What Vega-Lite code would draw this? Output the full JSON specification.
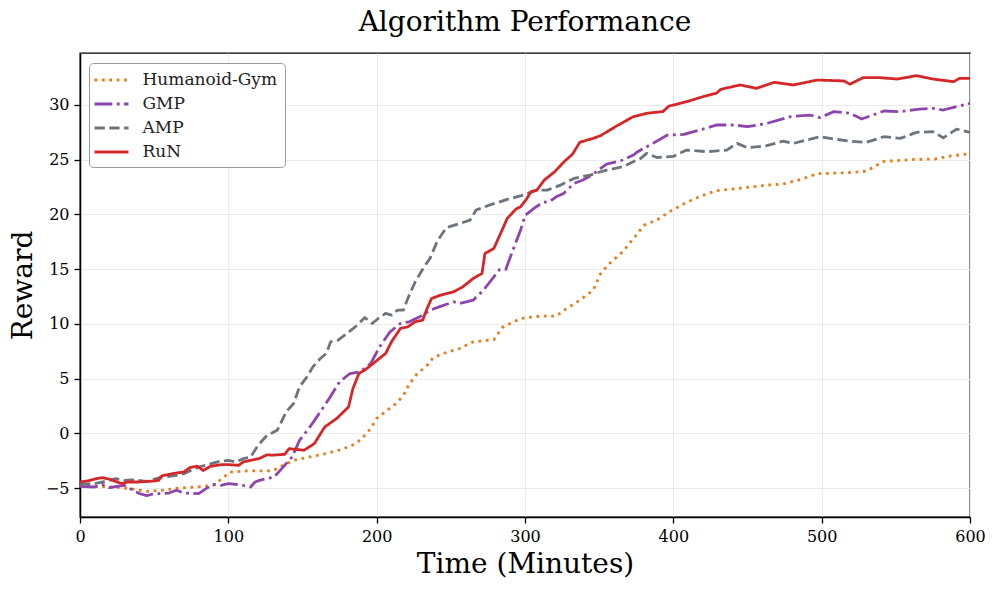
{
  "$schema": "https://vega.github.io/schema/vega-lite/v6.json",
  "width": 890,
  "height": 464,
  "autosize": {"type": "none"},
  "padding": {"left": 80, "top": 53, "right": 27, "bottom": 72},
  "background": "white",
  "title": {"text": "Algorithm Performance", "font": "DejaVu Serif", "fontSize": 28, "fontWeight": "normal", "offset": 16, "color": "#000"},
  "config": {
    "view": {"stroke": "#000", "strokeWidth": 1.3},
    "axis": {
      "labelFont": "DejaVu Serif", "labelFontSize": 16, "labelColor": "#000", "labelFlush": false,
      "titleFont": "DejaVu Serif", "titleFontSize": 28, "titleFontWeight": "normal", "titleColor": "#000",
      "domainColor": "#000", "domainWidth": 1.5, "tickColor": "#000", "tickWidth": 1.3, "tickSize": 6,
      "gridColor": "#ebebeb", "gridWidth": 1, "labelPadding": 5
    }
  },
  "data": {"values": [
    {"s":"Humanoid-Gym","t":0,"v":-4.75},{"s":"Humanoid-Gym","t":11,"v":-4.85},{"s":"Humanoid-Gym","t":22,"v":-4.9},{"s":"Humanoid-Gym","t":34,"v":-5.06},{"s":"Humanoid-Gym","t":45,"v":-5.3},{"s":"Humanoid-Gym","t":56,"v":-5.2},{"s":"Humanoid-Gym","t":67,"v":-5.0},{"s":"Humanoid-Gym","t":79,"v":-4.9},{"s":"Humanoid-Gym","t":90,"v":-4.75},{"s":"Humanoid-Gym","t":97,"v":-4.0},{"s":"Humanoid-Gym","t":101,"v":-3.55},{"s":"Humanoid-Gym","t":112,"v":-3.44},{"s":"Humanoid-Gym","t":124,"v":-3.44},{"s":"Humanoid-Gym","t":130,"v":-3.42},{"s":"Humanoid-Gym","t":135,"v":-3.05},{"s":"Humanoid-Gym","t":144,"v":-2.47},{"s":"Humanoid-Gym","t":155,"v":-2.15},{"s":"Humanoid-Gym","t":166,"v":-1.85},{"s":"Humanoid-Gym","t":177,"v":-1.45},{"s":"Humanoid-Gym","t":186,"v":-0.95},{"s":"Humanoid-Gym","t":191,"v":-0.33},{"s":"Humanoid-Gym","t":196,"v":0.43},{"s":"Humanoid-Gym","t":200,"v":1.35},{"s":"Humanoid-Gym","t":207,"v":2.1},{"s":"Humanoid-Gym","t":213,"v":2.7},{"s":"Humanoid-Gym","t":218,"v":3.45},{"s":"Humanoid-Gym","t":222,"v":4.5},{"s":"Humanoid-Gym","t":227,"v":5.4},{"s":"Humanoid-Gym","t":234,"v":6.2},{"s":"Humanoid-Gym","t":238,"v":6.9},{"s":"Humanoid-Gym","t":245,"v":7.3},{"s":"Humanoid-Gym","t":256,"v":7.75},{"s":"Humanoid-Gym","t":265,"v":8.35},{"s":"Humanoid-Gym","t":279,"v":8.56},{"s":"Humanoid-Gym","t":285,"v":9.7},{"s":"Humanoid-Gym","t":297,"v":10.49},{"s":"Humanoid-Gym","t":310,"v":10.7},{"s":"Humanoid-Gym","t":321,"v":10.7},{"s":"Humanoid-Gym","t":328,"v":11.4},{"s":"Humanoid-Gym","t":337,"v":12.16},{"s":"Humanoid-Gym","t":346,"v":13.08},{"s":"Humanoid-Gym","t":351,"v":14.6},{"s":"Humanoid-Gym","t":357,"v":15.52},{"s":"Humanoid-Gym","t":366,"v":16.6},{"s":"Humanoid-Gym","t":375,"v":18.1},{"s":"Humanoid-Gym","t":380,"v":19.0},{"s":"Humanoid-Gym","t":389,"v":19.5},{"s":"Humanoid-Gym","t":398,"v":20.3},{"s":"Humanoid-Gym","t":409,"v":21.1},{"s":"Humanoid-Gym","t":418,"v":21.65},{"s":"Humanoid-Gym","t":429,"v":22.17},{"s":"Humanoid-Gym","t":452,"v":22.5},{"s":"Humanoid-Gym","t":463,"v":22.68},{"s":"Humanoid-Gym","t":474,"v":22.78},{"s":"Humanoid-Gym","t":486,"v":23.2},{"s":"Humanoid-Gym","t":497,"v":23.72},{"s":"Humanoid-Gym","t":519,"v":23.82},{"s":"Humanoid-Gym","t":530,"v":23.95},{"s":"Humanoid-Gym","t":542,"v":24.85},{"s":"Humanoid-Gym","t":564,"v":25.03},{"s":"Humanoid-Gym","t":576,"v":25.06},{"s":"Humanoid-Gym","t":587,"v":25.34},{"s":"Humanoid-Gym","t":600,"v":25.55},
    {"s":"GMP","t":0,"v":-4.85},{"s":"GMP","t":10,"v":-4.91},{"s":"GMP","t":15,"v":-4.67},{"s":"GMP","t":20,"v":-4.97},{"s":"GMP","t":25,"v":-4.85},{"s":"GMP","t":30,"v":-4.76},{"s":"GMP","t":35,"v":-5.15},{"s":"GMP","t":40,"v":-5.5},{"s":"GMP","t":45,"v":-5.7},{"s":"GMP","t":50,"v":-5.52},{"s":"GMP","t":55,"v":-5.52},{"s":"GMP","t":60,"v":-5.46},{"s":"GMP","t":65,"v":-5.21},{"s":"GMP","t":70,"v":-5.46},{"s":"GMP","t":80,"v":-5.52},{"s":"GMP","t":85,"v":-5.06},{"s":"GMP","t":90,"v":-4.67},{"s":"GMP","t":95,"v":-4.76},{"s":"GMP","t":100,"v":-4.6},{"s":"GMP","t":105,"v":-4.67},{"s":"GMP","t":110,"v":-4.76},{"s":"GMP","t":115,"v":-4.91},{"s":"GMP","t":118,"v":-4.45},{"s":"GMP","t":121,"v":-4.3},{"s":"GMP","t":131,"v":-3.99},{"s":"GMP","t":136,"v":-3.23},{"s":"GMP","t":143,"v":-2.16},{"s":"GMP","t":148,"v":-0.64},{"s":"GMP","t":155,"v":0.58},{"s":"GMP","t":162,"v":1.95},{"s":"GMP","t":168,"v":3.17},{"s":"GMP","t":175,"v":4.7},{"s":"GMP","t":182,"v":5.46},{"s":"GMP","t":189,"v":5.61},{"s":"GMP","t":196,"v":6.38},{"s":"GMP","t":202,"v":7.9},{"s":"GMP","t":209,"v":9.27},{"s":"GMP","t":216,"v":10.03},{"s":"GMP","t":222,"v":10.19},{"s":"GMP","t":229,"v":10.64},{"s":"GMP","t":236,"v":11.25},{"s":"GMP","t":243,"v":11.6},{"s":"GMP","t":252,"v":12.01},{"s":"GMP","t":256,"v":11.86},{"s":"GMP","t":265,"v":12.16},{"s":"GMP","t":272,"v":13.08},{"s":"GMP","t":279,"v":14.3},{"s":"GMP","t":283,"v":14.97},{"s":"GMP","t":287,"v":14.97},{"s":"GMP","t":291,"v":16.43},{"s":"GMP","t":297,"v":18.56},{"s":"GMP","t":300,"v":19.9},{"s":"GMP","t":306,"v":20.55},{"s":"GMP","t":312,"v":21.1},{"s":"GMP","t":317,"v":21.2},{"s":"GMP","t":321,"v":21.61},{"s":"GMP","t":326,"v":21.92},{"s":"GMP","t":333,"v":22.83},{"s":"GMP","t":339,"v":23.14},{"s":"GMP","t":344,"v":23.5},{"s":"GMP","t":351,"v":24.2},{"s":"GMP","t":355,"v":24.6},{"s":"GMP","t":362,"v":24.81},{"s":"GMP","t":366,"v":24.97},{"s":"GMP","t":373,"v":25.42},{"s":"GMP","t":376,"v":25.73},{"s":"GMP","t":385,"v":26.4},{"s":"GMP","t":396,"v":27.25},{"s":"GMP","t":407,"v":27.31},{"s":"GMP","t":418,"v":27.71},{"s":"GMP","t":429,"v":28.17},{"s":"GMP","t":441,"v":28.17},{"s":"GMP","t":450,"v":28.02},{"s":"GMP","t":463,"v":28.32},{"s":"GMP","t":479,"v":28.93},{"s":"GMP","t":492,"v":29.08},{"s":"GMP","t":499,"v":28.84},{"s":"GMP","t":508,"v":29.39},{"s":"GMP","t":519,"v":29.24},{"s":"GMP","t":527,"v":28.72},{"s":"GMP","t":542,"v":29.45},{"s":"GMP","t":553,"v":29.39},{"s":"GMP","t":566,"v":29.63},{"s":"GMP","t":575,"v":29.69},{"s":"GMP","t":582,"v":29.54},{"s":"GMP","t":600,"v":30.15},
    {"s":"AMP","t":0,"v":-4.65},{"s":"AMP","t":10,"v":-4.6},{"s":"AMP","t":20,"v":-4.3},{"s":"AMP","t":24,"v":-4.15},{"s":"AMP","t":30,"v":-4.3},{"s":"AMP","t":35,"v":-4.25},{"s":"AMP","t":45,"v":-4.4},{"s":"AMP","t":55,"v":-4.0},{"s":"AMP","t":60,"v":-3.94},{"s":"AMP","t":65,"v":-3.85},{"s":"AMP","t":70,"v":-3.69},{"s":"AMP","t":75,"v":-3.38},{"s":"AMP","t":80,"v":-3.08},{"s":"AMP","t":88,"v":-2.8},{"s":"AMP","t":94,"v":-2.56},{"s":"AMP","t":100,"v":-2.47},{"s":"AMP","t":105,"v":-2.62},{"s":"AMP","t":110,"v":-2.32},{"s":"AMP","t":115,"v":-2.17},{"s":"AMP","t":120,"v":-1.1},{"s":"AMP","t":126,"v":-0.2},{"s":"AMP","t":133,"v":0.28},{"s":"AMP","t":139,"v":1.95},{"s":"AMP","t":144,"v":2.72},{"s":"AMP","t":148,"v":4.24},{"s":"AMP","t":153,"v":5.16},{"s":"AMP","t":157,"v":6.07},{"s":"AMP","t":162,"v":6.83},{"s":"AMP","t":166,"v":7.29},{"s":"AMP","t":169,"v":8.36},{"s":"AMP","t":174,"v":8.51},{"s":"AMP","t":180,"v":9.12},{"s":"AMP","t":187,"v":9.88},{"s":"AMP","t":192,"v":10.58},{"s":"AMP","t":197,"v":10.03},{"s":"AMP","t":201,"v":10.49},{"s":"AMP","t":206,"v":10.95},{"s":"AMP","t":210,"v":10.8},{"s":"AMP","t":214,"v":11.25},{"s":"AMP","t":218,"v":11.25},{"s":"AMP","t":221,"v":12.32},{"s":"AMP","t":226,"v":13.84},{"s":"AMP","t":232,"v":15.22},{"s":"AMP","t":236,"v":15.98},{"s":"AMP","t":241,"v":17.6},{"s":"AMP","t":247,"v":18.8},{"s":"AMP","t":256,"v":19.17},{"s":"AMP","t":263,"v":19.48},{"s":"AMP","t":267,"v":20.4},{"s":"AMP","t":276,"v":20.85},{"s":"AMP","t":288,"v":21.37},{"s":"AMP","t":299,"v":21.77},{"s":"AMP","t":308,"v":22.22},{"s":"AMP","t":315,"v":22.22},{"s":"AMP","t":324,"v":22.68},{"s":"AMP","t":333,"v":23.29},{"s":"AMP","t":344,"v":23.6},{"s":"AMP","t":351,"v":23.9},{"s":"AMP","t":355,"v":24.05},{"s":"AMP","t":366,"v":24.36},{"s":"AMP","t":373,"v":24.81},{"s":"AMP","t":378,"v":25.12},{"s":"AMP","t":382,"v":25.58},{"s":"AMP","t":389,"v":25.2},{"s":"AMP","t":400,"v":25.3},{"s":"AMP","t":409,"v":25.88},{"s":"AMP","t":423,"v":25.73},{"s":"AMP","t":436,"v":25.88},{"s":"AMP","t":443,"v":26.49},{"s":"AMP","t":450,"v":26.09},{"s":"AMP","t":463,"v":26.28},{"s":"AMP","t":474,"v":26.7},{"s":"AMP","t":481,"v":26.49},{"s":"AMP","t":490,"v":26.8},{"s":"AMP","t":499,"v":27.1},{"s":"AMP","t":508,"v":26.89},{"s":"AMP","t":519,"v":26.7},{"s":"AMP","t":530,"v":26.58},{"s":"AMP","t":542,"v":27.1},{"s":"AMP","t":553,"v":26.95},{"s":"AMP","t":564,"v":27.5},{"s":"AMP","t":575,"v":27.56},{"s":"AMP","t":582,"v":27.0},{"s":"AMP","t":591,"v":27.8},{"s":"AMP","t":600,"v":27.5},
    {"s":"RuN","t":0,"v":-4.45},{"s":"RuN","t":5,"v":-4.36},{"s":"RuN","t":11,"v":-4.15},{"s":"RuN","t":15,"v":-4.06},{"s":"RuN","t":20,"v":-4.2},{"s":"RuN","t":25,"v":-4.45},{"s":"RuN","t":28,"v":-4.6},{"s":"RuN","t":32,"v":-4.45},{"s":"RuN","t":40,"v":-4.45},{"s":"RuN","t":50,"v":-4.36},{"s":"RuN","t":53,"v":-4.3},{"s":"RuN","t":55,"v":-3.9},{"s":"RuN","t":60,"v":-3.75},{"s":"RuN","t":65,"v":-3.63},{"s":"RuN","t":70,"v":-3.54},{"s":"RuN","t":74,"v":-3.14},{"s":"RuN","t":79,"v":-3.0},{"s":"RuN","t":83,"v":-3.4},{"s":"RuN","t":88,"v":-3.02},{"s":"RuN","t":95,"v":-2.87},{"s":"RuN","t":101,"v":-2.87},{"s":"RuN","t":107,"v":-2.93},{"s":"RuN","t":110,"v":-2.62},{"s":"RuN","t":115,"v":-2.47},{"s":"RuN","t":121,"v":-2.3},{"s":"RuN","t":126,"v":-1.97},{"s":"RuN","t":130,"v":-2.0},{"s":"RuN","t":138,"v":-1.92},{"s":"RuN","t":141,"v":-1.4},{"s":"RuN","t":151,"v":-1.55},{"s":"RuN","t":158,"v":-0.94},{"s":"RuN","t":165,"v":0.58},{"s":"RuN","t":173,"v":1.35},{"s":"RuN","t":181,"v":2.4},{"s":"RuN","t":184,"v":4.09},{"s":"RuN","t":188,"v":5.46},{"s":"RuN","t":192,"v":5.77},{"s":"RuN","t":199,"v":6.53},{"s":"RuN","t":206,"v":7.29},{"s":"RuN","t":210,"v":8.36},{"s":"RuN","t":216,"v":9.58},{"s":"RuN","t":221,"v":9.73},{"s":"RuN","t":226,"v":10.19},{"s":"RuN","t":231,"v":10.34},{"s":"RuN","t":234,"v":11.4},{"s":"RuN","t":237,"v":12.32},{"s":"RuN","t":243,"v":12.62},{"s":"RuN","t":252,"v":12.93},{"s":"RuN","t":258,"v":13.38},{"s":"RuN","t":265,"v":14.14},{"s":"RuN","t":271,"v":14.6},{"s":"RuN","t":273,"v":16.43},{"s":"RuN","t":279,"v":16.89},{"s":"RuN","t":283,"v":18.1},{"s":"RuN","t":288,"v":19.63},{"s":"RuN","t":294,"v":20.5},{"s":"RuN","t":297,"v":20.7},{"s":"RuN","t":301,"v":21.4},{"s":"RuN","t":304,"v":22.07},{"s":"RuN","t":308,"v":22.22},{"s":"RuN","t":313,"v":23.14},{"s":"RuN","t":320,"v":23.9},{"s":"RuN","t":327,"v":24.9},{"s":"RuN","t":332,"v":25.5},{"s":"RuN","t":337,"v":26.6},{"s":"RuN","t":346,"v":26.95},{"s":"RuN","t":351,"v":27.2},{"s":"RuN","t":362,"v":28.1},{"s":"RuN","t":373,"v":28.93},{"s":"RuN","t":382,"v":29.24},{"s":"RuN","t":393,"v":29.4},{"s":"RuN","t":397,"v":29.9},{"s":"RuN","t":409,"v":30.3},{"s":"RuN","t":420,"v":30.76},{"s":"RuN","t":429,"v":31.07},{"s":"RuN","t":432,"v":31.43},{"s":"RuN","t":445,"v":31.83},{"s":"RuN","t":456,"v":31.52},{"s":"RuN","t":468,"v":32.07},{"s":"RuN","t":481,"v":31.83},{"s":"RuN","t":497,"v":32.28},{"s":"RuN","t":515,"v":32.2},{"s":"RuN","t":519,"v":31.9},{"s":"RuN","t":528,"v":32.5},{"s":"RuN","t":539,"v":32.5},{"s":"RuN","t":551,"v":32.37},{"s":"RuN","t":564,"v":32.68},{"s":"RuN","t":575,"v":32.37},{"s":"RuN","t":589,"v":32.13},{"s":"RuN","t":593,"v":32.44},{"s":"RuN","t":600,"v":32.44}
  ]},
  "mark": {"type": "line", "strokeCap": "butt", "strokeJoin": "round"},
  "encoding": {
    "x": {"field": "t", "type": "quantitative", "scale": {"domain": [0, 600], "nice": false, "zero": false},
      "axis": {"title": "Time (Minutes)", "values": [0, 100, 200, 300, 400, 500, 600], "titlePadding": 6}},
    "y": {"field": "v", "type": "quantitative", "scale": {"domain": [-7.65, 34.75], "nice": false, "zero": false},
      "axis": {"title": "Reward", "values": [-5, 0, 5, 10, 15, 20, 25, 30], "titlePadding": 8}},
    "color": {"field": "s", "type": "nominal",
      "scale": {"domain": ["Humanoid-Gym", "GMP", "AMP", "RuN"], "range": ["#e67e22", "#8e44ad", "#6c757d", "#d62728"]},
      "legend": {"title": null, "orient": "none", "legendX": 9, "legendY": 10, "symbolType": "M-2,0H2", "symbolSize": 289, "symbolOffset": 5.5,
        "labelFont": "DejaVu Serif", "labelFontSize": 17, "labelColor": "#222", "fillColor": "white", "strokeColor": "#999",
        "cornerRadius": 4, "padding": 7, "rowPadding": 6, "labelOffset": 21}},
    "strokeDash": {"field": "s", "type": "nominal",
      "scale": {"domain": ["Humanoid-Gym", "GMP", "AMP", "RuN"], "range": [[2.8, 4.6], [17.8, 4.5, 2.8, 4.5], [10.3, 4.5], [1, 0]]}},
    "strokeWidth": {"field": "s", "type": "nominal",
      "scale": {"domain": ["Humanoid-Gym", "GMP", "AMP", "RuN"], "range": [2.8, 2.8, 2.8, 4.7]}}
  }
}
